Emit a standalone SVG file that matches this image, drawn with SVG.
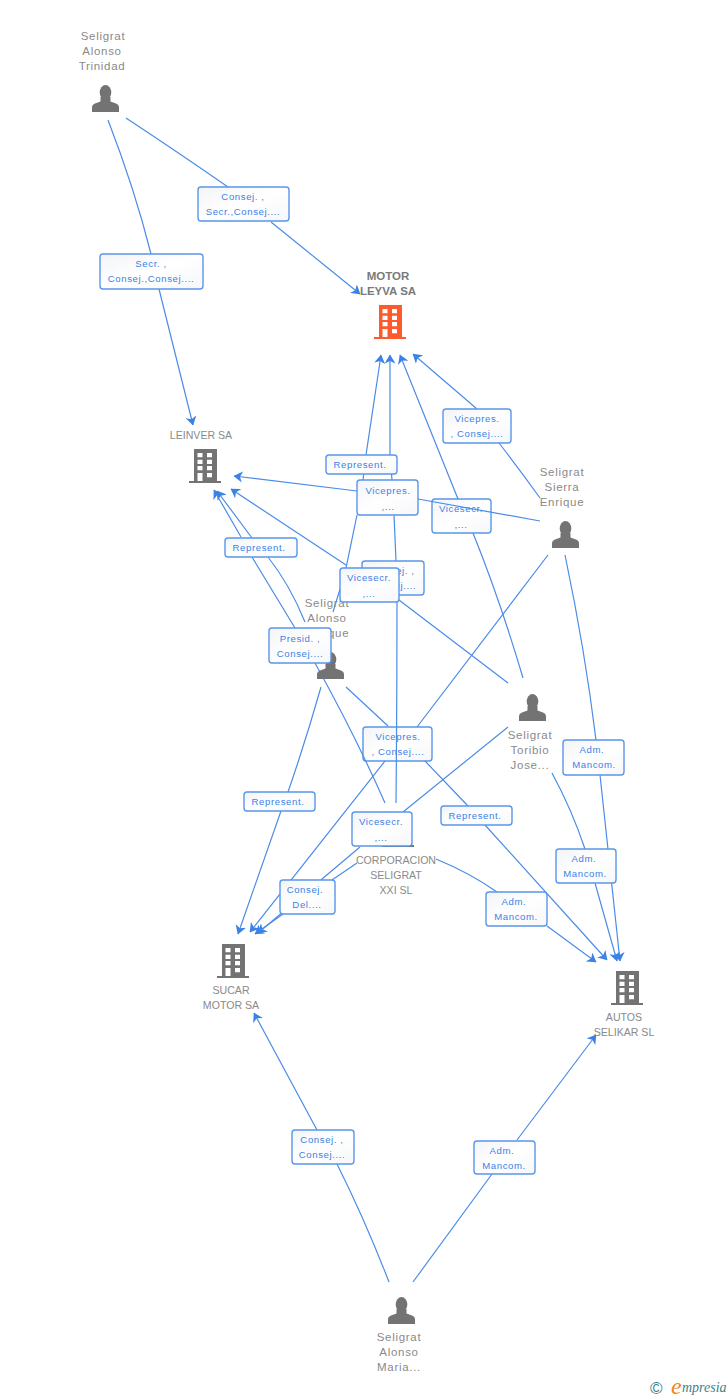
<svg xmlns="http://www.w3.org/2000/svg" width="728" height="1400" viewBox="0 0 728 1400">
<style>
text{font-family:"Liberation Sans",Arial,sans-serif}
.n{font-size:11.5px;letter-spacing:.7px;fill:#8a8a8a;text-anchor:middle}
.c{font-size:10.6px;fill:#8a8a8a;text-anchor:middle}
.m{font-size:11.5px;font-weight:bold;fill:#7a7a7a;text-anchor:middle}
.t{font-size:9.6px;letter-spacing:.6px;fill:#3b82e6;text-anchor:middle}
.b{fill:url(#lg);stroke:#5a96ea;stroke-width:1.4}
.e{fill:none;stroke:#4a8ce8;stroke-width:1.2;marker-end:url(#ah)}
.ic{fill:#737373}
.or{fill:#ff5a2b}
.lt{font-family:"Liberation Serif",serif;font-style:italic}
</style>
<defs>
<linearGradient id="lg" x1="0" y1="0" x2="1" y2="1"><stop offset="0" stop-color="#f3f4f7"/><stop offset=".5" stop-color="#fff"/><stop offset="1" stop-color="#f6f7f9"/></linearGradient>
<marker id="ah" viewBox="0 0 9 11" refX="8.5" refY="5.5" markerWidth="9" markerHeight="11" markerUnits="userSpaceOnUse" orient="auto"><path d="M0,0L9,5.5L0,11L2.5,5.5z" fill="#3b82e6"/></marker>
<g id="person"><ellipse cx="13.5" cy="7.5" rx="5.8" ry="7.5"/><path d="M0,27V22.5Q0,19.5 3,18.5L8.5,16.5V12H18.5V16.5L24,18.5Q27,19.5 27,22.5V27z"/></g>
<g id="bld"><path d="M5,0H28V32H32V34H0V32H5z"/><path fill="#fff" d="M8.5,4h5v4.3h-5zM18,4h5v4.3h-5zM8.5,10.7h5v4.3h-5zM18,10.7h5v4.3h-5zM8.5,17h5v4.3h-5zM18,17h5v4.3h-5zM8.5,24h5v8h-5zM18,24h5v4.3h-5z"/></g>
</defs>
<rect width="728" height="1400" fill="#fff"/>
<g id="label-under">
<rect class="b" x="432" y="499" width="59" height="34" rx="3"/><text class="t" x="461" y="512">Vicesecr.</text><text class="t" x="461" y="528">,...</text>
<rect class="b" x="363" y="727" width="69" height="34" rx="3"/><text class="t" x="398" y="740">Vicepres.</text><text class="t" x="398" y="755">, Consej....</text>
</g>
<g id="connectors">
<path class="e" d="M126,118Q182,155 228,187M271,222L360,294"/>
<path class="e" d="M108,120Q135,190 151,254M159,289L193,425"/>
<path class="e" d="M333,612Q340,590 346,568L357,515M363,480L366,455L381,355"/>
<path class="e" d="M396,803Q397,700 397,602M396,561L394,515M392,480L390,455L390,355"/>
<path class="e" d="M523,678Q500,600 473,533M458,499L400,355"/>
<path class="e" d="M540,498Q520,470 499,443M477,409L413,354"/>
<path class="e" d="M540,521L418,499M357,491L234,476"/>
<path class="e" d="M508,683L399,600M346,565L231,489"/>
<path class="e" d="M305,622Q290,585 268,557M252,538L217,491"/>
<path class="e" d="M385,803Q355,735 315,663M295,628L252,557M241,537L214,490"/>
<path class="e" d="M321,687Q306,740 288,792M281,811L238,934"/>
<path class="e" d="M346,687L388,726M425,761L468,806M485,825L607,960"/>
<path class="e" d="M548,555L417,727M385,761L250,932"/>
<path class="e" d="M565,555Q585,650 596,740M600,775L620,961"/>
<path class="e" d="M552,773Q572,810 585,849M595,883L617,961"/>
<path class="e" d="M508,727L403,812M360,847L258,933"/>
<path class="e" d="M357,863L332,880M283,914L255,934"/>
<path class="e" d="M436,859Q470,873 497,892M547,926L596,962"/>
<path class="e" d="M389,1282Q365,1220 337,1164M317,1130L254,1013"/>
<path class="e" d="M413,1282L492,1174M517,1140L596,1035"/>
</g>
<g id="node-trinidad"><text class="n" x="103" y="40">Seligrat</text><text class="n" x="102" y="55">Alonso</text><text class="n" x="102" y="70">Trinidad</text><use href="#person" x="92" y="85" class="ic"/></g>
<g id="node-motor"><text class="m" x="388" y="280">MOTOR</text><text class="m" x="388" y="295">LEYVA SA</text><use href="#bld" x="374" y="305" class="or"/></g>
<g id="node-leinver"><text class="c" x="201" y="439">LEINVER SA</text><use href="#bld" x="189" y="449" class="ic"/></g>
<g id="node-sierra"><text class="n" x="562" y="476">Seligrat</text><text class="n" x="562" y="491">Sierra</text><text class="n" x="562" y="506">Enrique</text><use href="#person" x="552" y="521" class="ic"/></g>
<g id="node-enrique"><text class="n" x="327" y="607">Seligrat</text><text class="n" x="327" y="622">Alonso</text><text class="n" x="327" y="637">Enrique</text><use href="#person" x="317" y="652" class="ic"/></g>
<g id="node-toribio"><text class="n" x="530" y="739">Seligrat</text><text class="n" x="530" y="754">Toribio</text><text class="n" x="530" y="769">Jose...</text><use href="#person" x="519" y="694" class="ic"/></g>
<g id="node-corporacion"><use href="#bld" x="382" y="813" class="ic"/><text class="c" x="396" y="864">CORPORACION</text><text class="c" x="396" y="879">SELIGRAT</text><text class="c" x="396" y="894">XXI SL</text></g>
<g id="node-sucar"><use href="#bld" x="217" y="944" class="ic"/><text class="c" x="231" y="994">SUCAR</text><text class="c" x="231" y="1009">MOTOR SA</text></g>
<g id="node-autos"><use href="#bld" x="611" y="971" class="ic"/><text class="c" x="624" y="1021">AUTOS</text><text class="c" x="624" y="1036">SELIKAR SL</text></g>
<g id="node-maria"><use href="#person" x="388" y="1297" class="ic"/><text class="n" x="399" y="1341">Seligrat</text><text class="n" x="399" y="1356">Alonso</text><text class="n" x="399" y="1371">Maria...</text></g>
<g id="labels">
<rect class="b" x="198" y="187" width="91" height="34" rx="3"/><text class="t" x="243" y="200">Consej. ,</text><text class="t" x="243" y="215">Secr.,Consej....</text>
<rect class="b" x="100" y="254" width="103" height="35" rx="3"/><text class="t" x="151" y="267">Secr. ,</text><text class="t" x="151" y="282">Consej.,Consej....</text>
<rect class="b" x="443" y="409" width="68" height="34" rx="3"/><text class="t" x="477" y="422">Vicepres.</text><text class="t" x="477" y="437">, Consej....</text>
<rect class="b" x="326" y="455" width="71" height="19" rx="3"/><text class="t" x="360" y="468">Represent.</text>
<rect class="b" x="357" y="480" width="61" height="35" rx="3"/><text class="t" x="388" y="494">Vicepres.</text><text class="t" x="388" y="510">,...</text>
<rect class="b" x="225" y="538" width="72" height="19" rx="3"/><text class="t" x="259" y="551">Represent.</text>
<rect class="b" x="362" y="561" width="62" height="34" rx="3"/><text class="t" x="393" y="574">Consej. ,</text><text class="t" x="393" y="589">Consej....</text>
<rect class="b" x="340" y="568" width="59" height="34" rx="3"/><text class="t" x="369" y="581">Vicesecr.</text><text class="t" x="369" y="597">,...</text>
<rect class="b" x="269" y="628" width="62" height="35" rx="3"/><text class="t" x="300" y="642">Presid. ,</text><text class="t" x="300" y="657">Consej....</text>
<rect class="b" x="563" y="740" width="61" height="35" rx="3"/><text class="t" x="592" y="753">Adm.</text><text class="t" x="594" y="768">Mancom.</text>
<rect class="b" x="244" y="792" width="71" height="19" rx="3"/><text class="t" x="278" y="805">Represent.</text>
<rect class="b" x="441" y="806" width="71" height="19" rx="3"/><text class="t" x="475" y="819">Represent.</text>
<rect class="b" x="352" y="812" width="60" height="34" rx="3"/><text class="t" x="381" y="825">Vicesecr.</text><text class="t" x="381" y="841">,...</text>
<rect class="b" x="556" y="849" width="60" height="34" rx="3"/><text class="t" x="584" y="862">Adm.</text><text class="t" x="585" y="877">Mancom.</text>
<rect class="b" x="280" y="880" width="55" height="34" rx="3"/><text class="t" x="305" y="893">Consej.</text><text class="t" x="307" y="908">Del....</text>
<rect class="b" x="486" y="892" width="61" height="34" rx="3"/><text class="t" x="514" y="905">Adm.</text><text class="t" x="516" y="920">Mancom.</text>
<rect class="b" x="292" y="1130" width="62" height="34" rx="3"/><text class="t" x="322" y="1143">Consej. ,</text><text class="t" x="322" y="1158">Consej....</text>
<rect class="b" x="474" y="1141" width="61" height="33" rx="3"/><text class="t" x="502" y="1154">Adm.</text><text class="t" x="504" y="1169">Mancom.</text>
</g>
<g id="logo"><text x="650" y="1394" font-size="17" fill="#3d7f8c">©</text><text class="lt" x="671" y="1394" font-size="24" fill="#f58220">e</text><text class="lt" x="682" y="1392" font-size="14" fill="#3d7f8c">mpresia</text></g>
</svg>
